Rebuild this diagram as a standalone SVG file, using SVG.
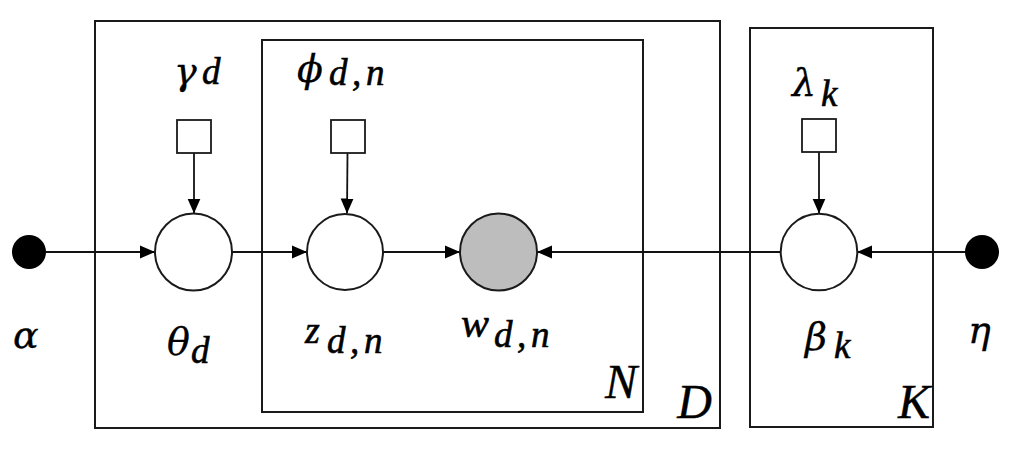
<svg xmlns="http://www.w3.org/2000/svg" width="1014" height="460" viewBox="0 0 1014 460">
<defs>
<style>
.plate{fill:none;stroke:#1a1a1a;stroke-width:2}
.node{fill:#fff;stroke:#1a1a1a;stroke-width:2}
.obs{fill:#bdbdbd;stroke:#1a1a1a;stroke-width:2}
.hyper{fill:#000}
.box{fill:#fff;stroke:#1a1a1a;stroke-width:1.8}
.edge{fill:none;stroke:#111;stroke-width:1.8;marker-end:url(#arr)}
.lbl{font-family:"Liberation Serif","Times New Roman",serif;font-style:italic;font-size:37px;fill:#000;stroke:#000;stroke-width:0.6px}
.g{font-family:"DejaVu Serif","Liberation Serif",serif;font-size:38px;stroke-width:0.3px}
.plbl{font-family:"Liberation Serif","Times New Roman",serif;font-style:italic;font-size:48px;fill:#000;stroke:#000;stroke-width:0.4px}
</style>
<marker id="arr" markerWidth="16" markerHeight="14" refX="15" refY="7" orient="auto" markerUnits="userSpaceOnUse">
<path d="M0,0.5 L15,7 L0,13.5 Z" fill="#000"/>
</marker>
</defs>
<rect width="1014" height="460" fill="#fff"/>
<g id="plates">
<rect id="plate-D" class="plate" x="95" y="21" width="625" height="407"/>
<rect id="plate-N" class="plate" x="262" y="40" width="381" height="372"/>
<rect id="plate-K" class="plate" x="750" y="28" width="183" height="399"/>
<text class="plbl" x="637" y="398" text-anchor="end">N</text>
<text class="plbl" x="712" y="418" text-anchor="end">D</text>
<text class="plbl" x="930" y="418" text-anchor="end">K</text>
</g>
<g id="connectors">
<line class="edge" x1="46" y1="252" x2="155" y2="252"/>
<line class="edge" x1="232" y1="252" x2="307" y2="252"/>
<line class="edge" x1="383" y1="252" x2="460" y2="252"/>
<line class="edge" x1="781" y1="252" x2="537" y2="252"/>
<line class="edge" x1="965" y1="252" x2="857" y2="252"/>
<line class="edge" x1="194" y1="153" x2="194" y2="213.5"/>
<line class="edge" x1="347.5" y1="153" x2="347" y2="213.5"/>
<line class="edge" x1="819" y1="152" x2="819" y2="213.5"/>
</g>
<g id="alpha">
<circle class="hyper" cx="29" cy="252" r="17"/>
<text class="lbl g" x="13" y="348">α</text>
</g>
<g id="gamma">
<rect class="box" x="177" y="120" width="34" height="33"/>
<text class="lbl"><tspan class="g" x="174" y="84">γ</tspan><tspan x="202" y="84">d</tspan></text>
</g>
<g id="theta">
<circle class="node" cx="193.5" cy="252" r="38.5"/>
<text class="lbl"><tspan class="g" x="167" y="355">θ</tspan><tspan x="191" y="363">d</tspan></text>
</g>
<g id="phi">
<rect class="box" x="331" y="120" width="34" height="33"/>
<text class="lbl"><tspan class="g" x="297" y="82">ϕ</tspan><tspan x="329" y="85">d</tspan><tspan x="352" y="85">,</tspan><tspan x="366" y="85">n</tspan></text>
</g>
<g id="z">
<circle class="node" cx="345" cy="252" r="38"/>
<text class="lbl"><tspan style="font-size:38px" x="305" y="343">z</tspan><tspan x="327" y="353">d</tspan><tspan x="350" y="353">,</tspan><tspan x="364" y="353">n</tspan></text>
</g>
<g id="w">
<circle class="obs" cx="498.5" cy="252" r="38.5"/>
<text class="lbl"><tspan style="font-size:42px" x="461" y="337">w</tspan><tspan x="494" y="347">d</tspan><tspan x="517" y="347">,</tspan><tspan x="531" y="347">n</tspan></text>
</g>
<g id="lambda">
<rect class="box" x="802" y="119" width="34" height="33"/>
<text class="lbl"><tspan class="g" x="792" y="96">λ</tspan><tspan x="821" y="106">k</tspan></text>
</g>
<g id="beta">
<circle class="node" cx="819" cy="252" r="38.3"/>
<text class="lbl"><tspan class="g" x="805" y="350">β</tspan><tspan x="834" y="358">k</tspan></text>
</g>
<g id="eta">
<circle class="hyper" cx="982" cy="252" r="17"/>
<text class="lbl g" x="968" y="343">η</text>
</g>
</svg>
